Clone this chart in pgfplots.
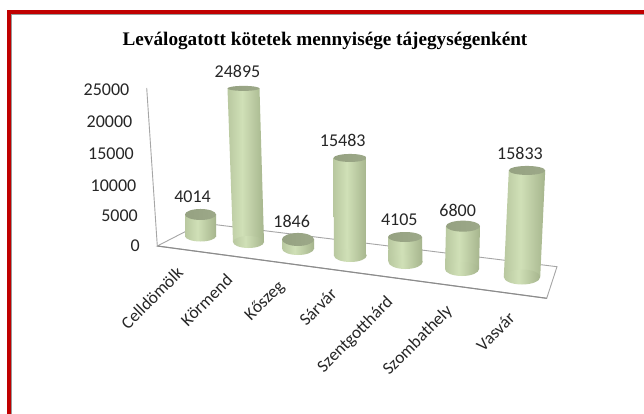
\documentclass[border=0pt]{standalone}
\usepackage{pgfplots}
\pgfplotsset{compat=1.18}
\usepackage{xfp}
\usepackage{fontspec}
\setmainfont{Carlito}
\newfontfamily\titlefont{Liberation Serif}
\definecolor{cA}{RGB}{148,162,125}
\definecolor{cE}{RGB}{172,187,147}
\definecolor{cB}{RGB}{208,224,183}
\definecolor{cD}{RGB}{170,185,145}
\definecolor{cC}{RGB}{116,130,100}
\definecolor{capA}{RGB}{146,158,126}
\definecolor{capB}{RGB}{160,172,140}
\pgfdeclarehorizontalshading{cylshade}{100bp}{color(0bp)=(cA); color(14bp)=(cE); color(45bp)=(cB); color(72bp)=(cD); color(100bp)=(cC)}
\pgfdeclarehorizontalshading{capshade}{100bp}{color(0bp)=(capA); color(100bp)=(capB)}
\pgfdeclareplotmark{cylbot}{\pgfpathcircle{\pgfpointorigin}{\pgfplotmarksize}\pgfshadepath{cylshade}{0}\pgfusepath{discard}}
\pgfdeclareplotmark{cylcap}{\pgfpathcircle{\pgfpointorigin}{\pgfplotmarksize}\pgfshadepath{capshade}{0}\pgfusepath{discard}}
% value, bottom cx, bottom half width, bottom cy, bottom ry, top cx, top half width, px per 1000, top ry
\newcommand{\cyl}[9]{%
  \edef\ty{\fpeval{#4-#1/1000*#8}}%
  \pgfmathsetmacro\xa{#2-#3}\pgfmathsetmacro\xb{#2+#3}%
  \pgfmathsetmacro\xc{#6+#7}\pgfmathsetmacro\xd{#6-#7}%
  \pgfmathsetmacro\ysb{#5/#3}\pgfmathsetmacro\yst{#9/#7}%
  \edef\cylcmd{%
    \noexpand\addplot[only marks,mark=cylbot,mark size=#3,mark options={yscale=\ysb}] coordinates {(#2,#4)};
    \noexpand\addplot[draw=none,shading=cylshade,mark=none] coordinates {(\xa,#4)(\xb,#4)(\xc,\ty)(\xd,\ty)} --cycle;
    \noexpand\addplot[only marks,mark=cylcap,mark size=#7,mark options={yscale=\yst}] coordinates {(#6,\ty)};
  }\cylcmd}
\tikzset{lab/.style={font=\fontsize{18}{20}\selectfont,text=black!85},
         cat/.style={font=\fontsize{17.4}{20}\selectfont,text=black!85,rotate=45}}
\begin{document}
\begin{tikzpicture}
\begin{axis}[
  width=644pt,height=414pt,scale only axis,
  xmin=0,xmax=644,ymin=0,ymax=414,y dir=reverse,
  axis lines=none,clip=false,
]
\path[fill=white] (axis cs:0,0) rectangle (axis cs:644,414);
% frame
\path[fill=black!40] (axis cs:7,14) rectangle (axis cs:644,15.2);
\path[fill=black!40] (axis cs:11,10) rectangle (axis cs:12.2,414);
\path[fill={rgb,255:red,192;green,0;blue,0}] (axis cs:7,10) rectangle (axis cs:644,14);
\path[fill={rgb,255:red,192;green,0;blue,0}] (axis cs:7,10) rectangle (axis cs:11,414);
% walls and floor
\addplot[draw=black!35,line width=0.9pt,fill=white,mark=none] coordinates {(157.3,246)(202,223)(557,266.7)(546.7,298.3)} --cycle;
\addplot[draw=black!45,line width=1.1pt,mark=none] coordinates {(157.3,246)(546.7,298.3)};
\addplot[draw=black!35,line width=0.9pt,mark=none] coordinates {(146.7,88)(157.3,246)};
% cylinders
\cyl{4014}{200.5}{15.5}{236}{5.5}{200.5}{15.5}{5.36}{5.5}
\cyl{24895}{248.5}{15.5}{242}{6}{243.5}{16}{6.17}{2.5}
\cyl{1846}{298}{16}{248.5}{6.5}{298}{16}{4.9}{6.5}
\cyl{15483}{350.3}{16.4}{255.5}{6.5}{350.1}{16.6}{6.3}{4}
\cyl{4105}{405.5}{17}{262}{7}{405}{17}{6.09}{5}
\cyl{6800}{462}{17}{269}{7}{463}{17}{6.3}{5.5}
\cyl{15833}{522}{18.2}{277}{7.5}{527}{18.2}{6.73}{4.5}
% value labels
\node[lab] at (axis cs:192.5,196.5) {4014};
\node[lab] at (axis cs:237.5,71) {24895};
\node[lab] at (axis cs:291.7,221.7) {1846};
\node[lab] at (axis cs:342.7,140.7) {15483};
\node[lab] at (axis cs:399.3,220) {4105};
\node[lab] at (axis cs:457.7,210) {6800};
\node[lab] at (axis cs:520,153.3) {15833};
% value axis
\node[lab,anchor=east,inner sep=0pt] at (axis cs:129.5,90) {25000};
\node[lab,anchor=east,inner sep=0pt] at (axis cs:132.5,122) {20000};
\node[lab,anchor=east,inner sep=0pt] at (axis cs:134,154) {15000};
\node[lab,anchor=east,inner sep=0pt] at (axis cs:136.5,186) {10000};
\node[lab,anchor=east,inner sep=0pt] at (axis cs:138,216) {5000};
\node[lab,anchor=east,inner sep=0pt] at (axis cs:140,246) {0};
% categories
\node[cat] at (axis cs:152,298) {Celldömölk};
\node[cat] at (axis cs:206.5,300) {Körmend};
\node[cat] at (axis cs:265,301) {Kőszeg};
\node[cat] at (axis cs:318,307) {Sárvár};
\node[cat] at (axis cs:355.5,335) {Szentgotthárd};
\node[cat] at (axis cs:418,340.5) {Szombathely};
\node[cat] at (axis cs:495.5,331.7) {Vasvár};
% title
\node[text=black] at (axis cs:325,40.5) {\titlefont\fontsize{19.2}{22}\selectfont\bfseries Leválogatott kötetek mennyisége tájegységenként};
\end{axis}
\end{tikzpicture}
\end{document}
